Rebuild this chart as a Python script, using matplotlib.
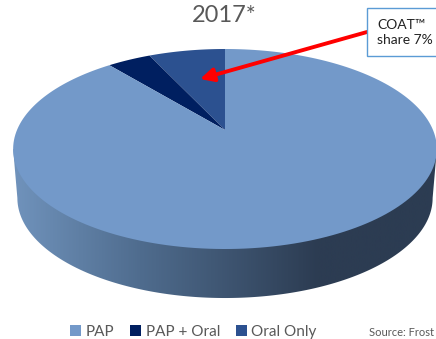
import numpy as np
import matplotlib
matplotlib.use("Agg")
import matplotlib.pyplot as plt
from matplotlib.colors import LinearSegmentedColormap
from matplotlib.patches import Patch, Polygon, Rectangle

plt.rcParams["font.family"] = ["Lato", "DejaVu Sans"]

labels = ["PAP", "PAP + Oral", "Oral Only"]
shares = [89, 4, 7]
colors = ["#7399c9", "#001f60", "#2c5190"]
title = "2017*"
callout = "COAT\u2122\nshare 7%"
source = "Source: Frost"

# pie geometry in image pixels, tilted pie = circle through a perspective map
cx, cy = 225, 130
sx, sy = 208, 96.4
k = 0.19
depth = 49


def project(theta, shift=0, scale=1.0):
    # theta in degrees, clockwise from the top of the pie
    t = np.radians(theta)
    u = np.sin(t)
    v = -np.cos(t)
    d = 1 - k * v
    return cx + scale * sx * u / d, cy + shift + sy * v / d


fig = plt.figure(figsize=(4.36, 3.39), dpi=100)
ax = fig.add_axes([0, 0, 1, 1])
ax.set_xlim(0, 436)
ax.set_ylim(339, 0)
ax.axis("off")

# side wall: widest point of the top face, straight down to widest point of the base
th = np.linspace(0, 360, 721)
tx, ty = project(th)
bx, by = project(th, shift=depth, scale=0.98)
b_right = np.argmax(bx)
b_left = np.argmin(bx)
t_right = np.argmax(tx)
t_left = np.argmin(tx)
wall = np.column_stack([
    np.r_[tx[t_right], bx[b_right:b_left + 1], tx[t_left]],
    np.r_[ty[t_right], by[b_right:b_left + 1], ty[t_left]],
])
side_map = LinearSegmentedColormap.from_list(
    "side", [(0, "#7093bc"), (0.3, "#4f6c8e"), (0.72, "#2c3c52"), (1, "#2c3c52")])
grad = np.linspace(0, 1, 436).reshape(1, -1)
img = ax.imshow(grad, cmap=side_map, extent=[13, 436, 339, 0], aspect="auto", zorder=1)
img.set_clip_path(Polygon(wall, closed=True, transform=ax.transData))
ax.set_xlim(0, 436)
ax.set_ylim(339, 0)

# top face, clockwise from top: Oral Only, PAP + Oral, then PAP back round
order = [2, 1, 0]
start = 0
for i in order:
    sweep = shares[i] * 3.6
    a = np.linspace(-start, -start - sweep, 200)
    x, y = project(a)
    ax.add_patch(Polygon(np.column_stack([np.r_[cx, x], np.r_[cy, y]]), closed=True,
                         facecolor=colors[i], edgecolor="none", zorder=2))
    start += sweep

ax.text(224, 15, title, ha="center", va="center", fontsize=17, color="#595959")

# callout box and arrow
ax.add_patch(Rectangle((367, 8), 70, 48, facecolor="white", edgecolor="#5b9bd5", lw=1, zorder=4))
ax.text(377, 32.5, callout, ha="left", va="center", fontsize=10, color="#222222",
        linespacing=1.25, zorder=5)
ax.annotate("", xy=(200, 79), xytext=(367, 32), zorder=3,
            arrowprops=dict(arrowstyle="-|>,head_length=0.8,head_width=0.4", color="#ff0000",
                            lw=2.8, shrinkA=0, shrinkB=0))

handles = [Patch(facecolor=c, label=l) for c, l in zip(colors, labels)]
ax.legend(handles=handles, loc="center", bbox_to_anchor=(193.5 / 436, 1 - 332 / 339), ncol=3,
          frameon=False, fontsize=11, labelcolor="#595959", handlelength=0.7, handleheight=0.7,
          handletextpad=0.3, columnspacing=1.05, borderpad=0)

ax.text(369, 333, source, ha="left", va="center", fontsize=8, color="#595959")

fig.savefig("out.png", dpi=100)
